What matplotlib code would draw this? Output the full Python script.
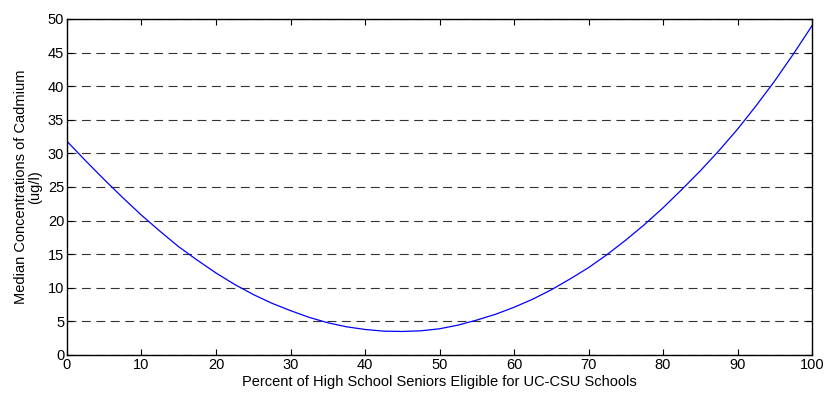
import matplotlib
matplotlib.use("Agg")
import matplotlib.pyplot as plt

# values
pct_eligible = [0, 2.5, 5, 7.5, 10, 12.5, 15, 17.5, 20, 22.5, 25, 27.5, 30,
                32.5, 35, 37.5, 40, 42.5, 45, 47.5, 50, 52.5, 55, 57.5, 60,
                62.5, 65, 67.5, 70, 72.5, 75, 77.5, 80, 82.5, 85, 87.5, 90,
                92.5, 95, 97.5, 100]
cadmium = [31.8, 28.9, 26.1, 23.4, 20.8, 18.4, 16.1, 14.1, 12.2, 10.5, 9.0,
           7.7, 6.6, 5.6, 4.8, 4.2, 3.8, 3.55, 3.5, 3.6, 3.9, 4.45, 5.2,
           6.05, 7.1, 8.3, 9.7, 11.3, 13.0, 14.95, 17.1, 19.4, 21.9, 24.6,
           27.4, 30.4, 33.6, 37.1, 40.8, 44.8, 49.0]

plt.rcParams['font.family'] = ['Liberation Sans', 'DejaVu Sans']
plt.rcParams['font.size'] = 10.5

fig = plt.figure(figsize=(8.25, 3.93), dpi=100)
ax = fig.add_axes([0.0812, 0.0967, 0.9031, 0.855])

ax.plot(pct_eligible, cadmium, color='#0000ff', linewidth=0.9)

ax.set_xlim(0, 100)
ax.set_ylim(0, 50)
ax.set_xticks(range(0, 101, 10))
ax.set_yticks(range(0, 51, 5))
ax.yaxis.grid(True, linestyle=(0, (8, 5)), color='#333333', linewidth=0.8)
ax.tick_params(direction='in', top=True, right=True, length=4, pad=2)
for s in ax.spines.values():
    s.set_linewidth(1.0)

ax.set_xlabel('Percent of High School Seniors Eligible for UC-CSU Schools', labelpad=2)
ax.set_ylabel('Median Concentrations of Cadmium\n(ug/l)', labelpad=4, linespacing=1.0)

fig.savefig('out.png', dpi=100)
